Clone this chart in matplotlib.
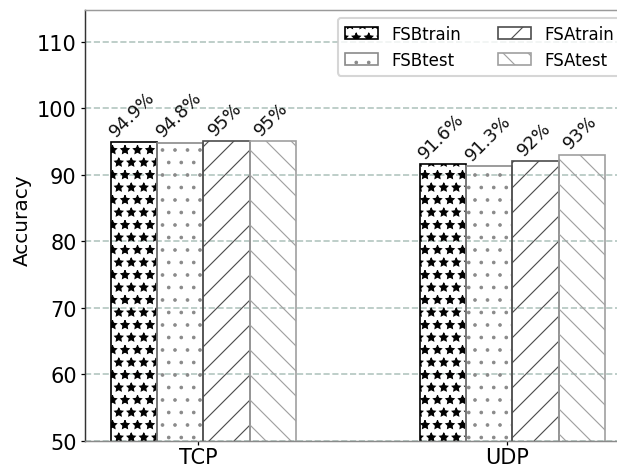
import matplotlib
matplotlib.use("Agg")
import matplotlib.pyplot as plt
import numpy as np

categories = ["TCP", "UDP"]
series_names = ["FSBtrain", "FSBtest", "FSAtrain", "FSAtest"]
fsb_train = [94.9, 91.6]
fsb_test = [94.8, 91.3]
fsa_train = [95, 92]
fsa_test = [95, 93]
yticks = [50, 60, 70, 80, 90, 100, 110]

series = [fsb_train, fsb_test, fsa_train, fsa_test]
hatches = ["**", "..", "//", "\\\\"]
edgecolors = ["#000000", "#8a8a8a", "#4d4d4d", "#a0a0a0"]

plt.rcParams["hatch.linewidth"] = 0.55
plt.rcParams["font.family"] = ["DejaVu Sans"]

W, H, DPI = 617, 466, 150
fig = plt.figure(figsize=(W / DPI, H / DPI), dpi=DPI)
ax = fig.add_axes([85 / W, 1 - 441.7 / H, (625 - 85) / W, (441.7 - 10.7) / H])

x = np.arange(len(categories))
width = 0.15
for i, (vals, name) in enumerate(zip(series, series_names)):
    pos = x + (i - 1.5) * width + 0.016
    ax.bar(pos, vals, width, facecolor="none", edgecolor=edgecolors[i],
           hatch=hatches[i], linewidth=0.8, label=name, zorder=2)
    for px, v in zip(pos, vals):
        ax.text(px - 0.004, v + 0.4, f"{v:g}%", rotation=45, ha="center",
                va="bottom", fontsize=8.5, color="#111111")

ax.set_ylim(50, 114.8)
ax.set_xlim(-0.3667, 1.381)
ax.set_yticks(yticks)
ax.set_xticks(x)
ax.set_xticklabels(categories)
ax.tick_params(axis="both", labelsize=10, length=2, width=0.6, pad=2)
ax.tick_params(axis="x", pad=0.8)
ax.set_ylabel("Accuracy", fontsize=9.6)
ax.yaxis.set_label_coords(-0.099, 0.515)

ax.yaxis.grid(True, linestyle="--", color="#b3c6c0", linewidth=0.8, zorder=1)
ax.set_axisbelow(True)

ax.spines["left"].set_color("#333333")
ax.spines["top"].set_color("#9a9a9a")
ax.spines["bottom"].set_color("#8a8a8a")
ax.spines["right"].set_visible(False)
for s in ax.spines.values():
    s.set_linewidth(0.7)

leg = ax.legend(ncol=2, loc="upper right", fontsize=8, columnspacing=2.2,
                bbox_to_anchor=(1.008, 1.0), handlelength=2.0)

fig.savefig("out.png", dpi=DPI)
